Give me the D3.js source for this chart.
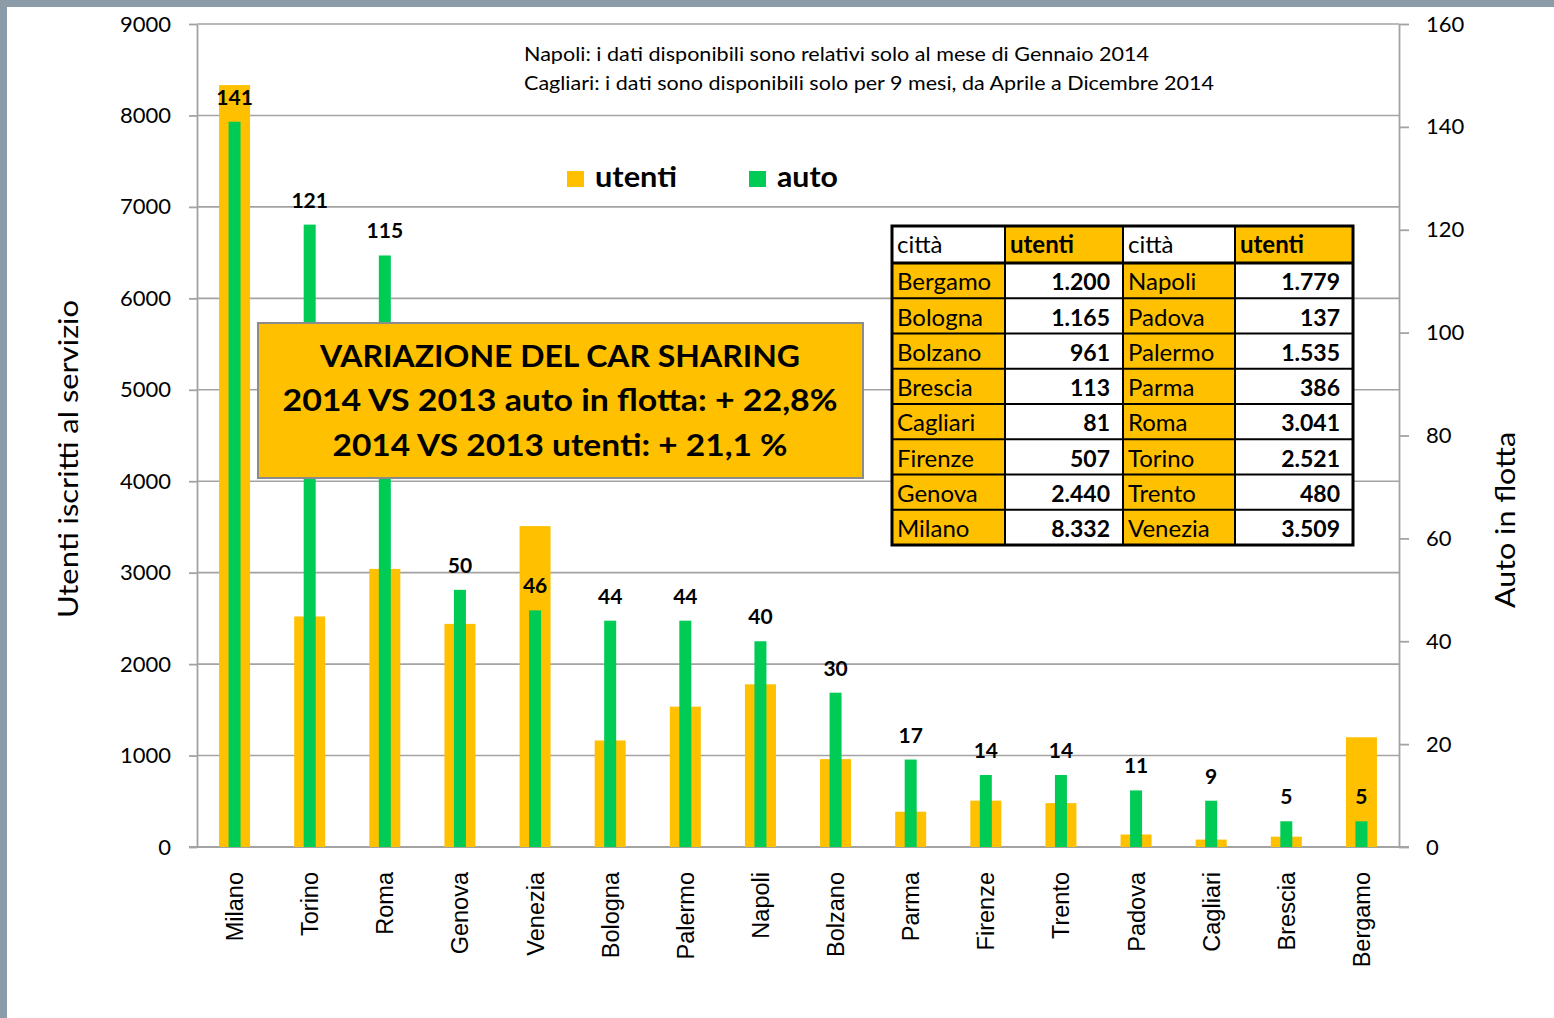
<!DOCTYPE html>
<html><head><meta charset="utf-8">
<script src="https://cdn.jsdelivr.net/npm/d3@7"></script>
<style>body{margin:0;background:#fff}svg{display:block}</style>
</head><body><svg id="c" width="1554" height="1018"></svg>
<script>
const cities = ["Milano","Torino","Roma","Genova","Venezia","Bologna","Palermo","Napoli","Bolzano","Parma","Firenze","Trento","Padova","Cagliari","Brescia","Bergamo"];
const utenti = [8332,2521,3041,2440,3509,1165,1535,1779,961,386,507,480,137,81,113,1200];
const auto = [141,121,115,50,46,44,44,40,30,17,14,14,11,9,5,5];
const leftTicks = [0,1000,2000,3000,4000,5000,6000,7000,8000,9000];
const rightTicks = [0,20,40,60,80,100,120,140,160];
const tableLeft = ["Bergamo","Bologna","Bolzano","Brescia","Cagliari","Firenze","Genova","Milano"];
const tableRight = ["Napoli","Padova","Palermo","Parma","Roma","Torino","Trento","Venezia"];
const tableHeader = ["città","utenti","città","utenti"];
const notes = ["Napoli: i dati disponibili sono relativi solo al mese di Gennaio 2014","Cagliari: i dati sono disponibili solo per 9 mesi, da Aprile a Dicembre 2014"];
const boxLines = ["VARIAZIONE DEL CAR SHARING","2014 VS 2013 auto in flotta: + 22,8%","2014 VS 2013 utenti: + 21,1 %"];
const seriesNames = ["utenti","auto"];
const leftTitle = "Utenti iscritti al servizio";
const rightTitle = "Auto in flotta";

const ORANGE = "#FFC000", GREEN = "#00CC55", GRID = "#A3A3A3", FRAME = "#8B9BA7";
const FONT = "Lato, 'Open Sans', sans-serif";
const svg = d3.select("#c");

// frame
svg.append("rect").attr("x",0).attr("y",0).attr("width",1554).attr("height",7).attr("fill",FRAME);
svg.append("rect").attr("x",0).attr("y",0).attr("width",7).attr("height",1018).attr("fill",FRAME);

const x = d3.scaleBand().domain(cities).range([197,1399]);
const yL = d3.scaleLinear().domain([0,9000]).range([847,24]);
const yR = d3.scaleLinear().domain([0,160]).range([847,24]);
const cx = c => x(c) + x.bandwidth()/2;

// gridlines
svg.append("g").selectAll("line").data(leftTicks.filter(t=>t>0)).join("line")
  .attr("x1",197).attr("x2",1399).attr("y1",d=>yL(d)).attr("y2",d=>yL(d))
  .attr("stroke",GRID).attr("stroke-width",1.6);

// axes
const gL = svg.append("g").attr("transform","translate(197,0)")
  .call(d3.axisLeft(yL).tickValues(leftTicks).tickSize(8).tickSizeOuter(0).tickPadding(18).tickFormat(d3.format("d")));
const gR = svg.append("g").attr("transform","translate(1399,0)")
  .call(d3.axisRight(yR).tickValues(rightTicks).tickSize(10).tickSizeOuter(0).tickPadding(17).tickFormat(d3.format("d")));
[gL,gR].forEach(g=>{
  g.selectAll("path,line").attr("stroke",GRID).attr("stroke-width",1.8);
  g.selectAll("text").attr("font-family",FONT).attr("font-size",22).attr("fill","#000");
});
svg.append("line").attr("x1",189).attr("x2",1409).attr("y1",yL(0)).attr("y2",yL(0))
  .attr("stroke",GRID).attr("stroke-width",1.8);

// bars
const data = cities.map((c,i)=>({c,u:utenti[i],a:auto[i]}));
svg.append("g").selectAll("rect").data(data).join("rect")
  .attr("x",d=>cx(d.c)-15.5).attr("width",31)
  .attr("y",d=>yL(d.u)).attr("height",d=>yL(0)-yL(d.u)).attr("fill",ORANGE);
svg.append("g").selectAll("rect").data(data).join("rect")
  .attr("x",d=>cx(d.c)-6).attr("width",12)
  .attr("y",d=>yR(d.a)).attr("height",d=>yR(0)-yR(d.a)).attr("fill",GREEN);
svg.append("g").selectAll("text").data(data).join("text")
  .attr("x",d=>cx(d.c)).attr("y",d=>yR(d.a)-17).attr("text-anchor","middle")
  .attr("font-family",FONT).attr("font-weight",700).attr("font-size",21).text(d=>d.a);

// category labels
svg.append("g").selectAll("text").data(cities).join("text")
  .attr("transform",d=>`translate(${cx(d)+8.5},872) rotate(-90)`)
  .attr("text-anchor","end").attr("font-family","'Liberation Sans', Arial, sans-serif")
  .attr("font-size",23.5).text(d=>d);

// axis titles
svg.append("text").attr("transform","translate(78,459) rotate(-90)").attr("text-anchor","middle")
  .attr("font-family",FONT).attr("font-size",26).attr("textLength",318).attr("lengthAdjust","spacingAndGlyphs").text(leftTitle);
svg.append("text").attr("transform","translate(1515,520) rotate(-90)").attr("text-anchor","middle")
  .attr("font-family",FONT).attr("font-size",26).attr("textLength",176).attr("lengthAdjust","spacingAndGlyphs").text(rightTitle);

// notes
const noteLen = [625,690], noteY = [61,90];
notes.forEach((n,i)=>{
  svg.append("text").attr("x",524).attr("y",noteY[i]).attr("font-family",FONT).attr("font-size",19)
    .attr("textLength",noteLen[i]).attr("lengthAdjust","spacingAndGlyphs").text(n);
});

// legend
const legX = [567,749], legTL = [82,61], legC = [ORANGE,GREEN];
seriesNames.forEach((s,i)=>{
  svg.append("rect").attr("x",legX[i]).attr("y",171).attr("width",17).attr("height",16).attr("fill",legC[i]);
  svg.append("text").attr("x",legX[i]+28).attr("y",187).attr("font-family",FONT).attr("font-weight",700)
    .attr("font-size",28).attr("textLength",legTL[i]).attr("lengthAdjust","spacingAndGlyphs").text(s);
});

// table
const fmt = d3.formatLocale({decimal:",",thousands:".",grouping:[3],currency:["",""]}).format(",d");
const val = c => fmt(utenti[cities.indexOf(c)]);
const colX = [892,1005,1123,1235,1353];
const headTop = 226, headBot = 263, rowH = 35.25;
const tg = svg.append("g");
const hdrFill = ["#fff",ORANGE,"#fff",ORANGE];
tableHeader.forEach((h,j)=>{
  tg.append("rect").attr("x",colX[j]).attr("y",headTop).attr("width",colX[j+1]-colX[j]).attr("height",headBot-headTop).attr("fill",hdrFill[j]);
  tg.append("text").attr("x",colX[j]+5).attr("y",headBot-10).attr("font-family",FONT).attr("font-size",24)
    .attr("font-weight",j%2?700:400).text(h);
});
const rows = tableLeft.map((c,i)=>[c,val(c),tableRight[i],val(tableRight[i])]);
rows.forEach((r,i)=>{
  const y0 = headBot + i*rowH;
  r.forEach((t,j)=>{
    tg.append("rect").attr("x",colX[j]).attr("y",y0).attr("width",colX[j+1]-colX[j]).attr("height",rowH)
      .attr("fill",j%2?"#fff":ORANGE);
    const isVal = j%2===1;
    tg.append("text").attr("x",isVal?colX[j+1]-13:colX[j]+5).attr("y",y0+rowH-8)
      .attr("text-anchor",isVal?"end":"start").attr("font-family",FONT)
      .attr("font-size",isVal?23:24).attr("font-weight",isVal?700:400).text(t);
  });
});
const tBot = headBot + rows.length*rowH;
for (let i=1;i<rows.length;i++){
  tg.append("line").attr("x1",colX[0]).attr("x2",colX[4]).attr("y1",headBot+i*rowH).attr("y2",headBot+i*rowH)
    .attr("stroke","#000").attr("stroke-width",2);
}
for (let j=1;j<4;j++){
  tg.append("line").attr("x1",colX[j]).attr("x2",colX[j]).attr("y1",headTop).attr("y2",tBot)
    .attr("stroke","#000").attr("stroke-width",2);
}
tg.append("line").attr("x1",colX[0]).attr("x2",colX[4]).attr("y1",headBot).attr("y2",headBot)
  .attr("stroke","#000").attr("stroke-width",3);
tg.append("rect").attr("x",colX[0]).attr("y",headTop).attr("width",colX[4]-colX[0]).attr("height",tBot-headTop)
  .attr("fill","none").attr("stroke","#000").attr("stroke-width",3);

// annotation box
svg.append("rect").attr("x",258).attr("y",323).attr("width",605).attr("height",155)
  .attr("fill",ORANGE).attr("stroke","#8C8C8C").attr("stroke-width",2);
const boxY = [367,411,456], boxLen = [480,555,455];
boxLines.forEach((t,i)=>{
  svg.append("text").attr("x",560).attr("y",boxY[i]).attr("text-anchor","middle")
    .attr("font-family",FONT).attr("font-weight",700).attr("font-size",30)
    .attr("textLength",boxLen[i]).attr("lengthAdjust","spacingAndGlyphs").text(t);
});
</script></body></html>
